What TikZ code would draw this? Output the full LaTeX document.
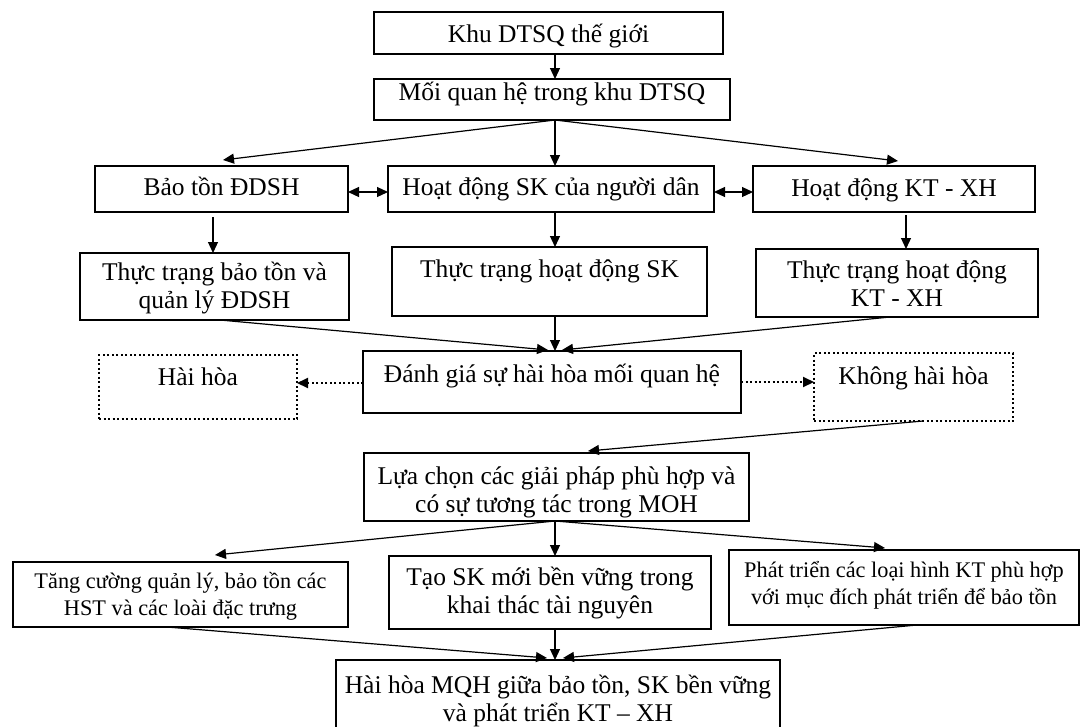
\documentclass[tikz,border=0pt]{standalone}
\usepackage{fontspec}
\setmainfont{Liberation Serif}
\usetikzlibrary{arrows.meta,calc}
\newcommand\tl[1]{\begin{tabular}[t]{@{}c@{}}#1\end{tabular}}
\begin{document}
\begin{tikzpicture}[x=1pt,y=-1pt,
  box/.style={draw, line width=1.2pt, inner sep=0pt, outer sep=0pt},
  dbox/.style={draw, line width=2pt, dash pattern=on 2pt off 2.5pt, inner sep=0pt, outer sep=0pt},
  txt/.style={inner sep=0pt, anchor=base, font=\fontsize{25.5}{28}\selectfont},
  stxt/.style={inner sep=0pt, anchor=base, font=\fontsize{22.3}{27}\selectfont},
  arr/.style={line width=1.2pt, -{Triangle[length=11pt,width=10pt]}},
  darr/.style={line width=1.2pt, {Triangle[length=11pt,width=10pt]}-{Triangle[length=11pt,width=10pt]}},
  dotarr/.style={line width=2pt, dash pattern=on 2pt off 2.5pt, -{Triangle[length=11pt,width=10pt]}},
]
\fill[white] (0,0) rectangle (1081,726);
\useasboundingbox (0,0) rectangle (1081,726);
\coordinate (mx) at (555,0);
% boxes
\node[box, minimum width=349pt, minimum height=42pt] (b1) at (548.5,33) {};
\node[box, minimum width=356pt, minimum height=41pt] (b2) at (552,99.5) {};
\node[box, minimum width=253pt, minimum height=46pt] (b3) at (221.5,189) {};
\node[box, minimum width=326pt, minimum height=46pt] (b4) at (551,189) {};
\node[box, minimum width=282pt, minimum height=46pt] (b5) at (894,189) {};
\node[box, minimum width=269pt, minimum height=67pt] (b6) at (214.5,286.5) {};
\node[box, minimum width=315pt, minimum height=69pt] (b7) at (549.5,281.5) {};
\node[box, minimum width=282pt, minimum height=68pt] (b8) at (897,283) {};
\node[box, minimum width=378pt, minimum height=62pt] (b9) at (552,382) {};
\node[dbox, minimum width=198pt, minimum height=64pt] (b10) at (198,387) {};
\node[dbox, minimum width=199pt, minimum height=68pt] (b11) at (913.5,387) {};
\node[box, minimum width=385pt, minimum height=68pt] (b12) at (556.5,487) {};
\node[box, minimum width=335pt, minimum height=65pt] (b13) at (180.5,594.5) {};
\node[box, minimum width=322pt, minimum height=73pt] (b14) at (550,592.5) {};
\node[box, minimum width=350pt, minimum height=75pt] (b15) at (904,587.5) {};
\node[box, minimum width=444pt, minimum height=72pt] (b16) at (558,696) {};
% texts
\node[txt] (t1) at (548.5,42) {Khu DTSQ thế giới};
\node[txt] (t2) at (552,100) {Mối quan hệ trong khu DTSQ};
\node[txt] (t3) at (221.5,195) {Bảo tồn ĐDSH};
\node[txt] (t4) at (551,195) {Hoạt động SK của người dân};
\node[txt] (t5) at (894,196) {Hoạt động KT - XH};
\node[txt] (t6) at (214.5,280) {\tl{\smash{Thực trạng bảo tồn và}\\\smash{quản lý ĐDSH}}};
\node[txt] (t7) at (549.5,277) {Thực trạng hoạt động SK};
\node[txt] (t8) at (897,278) {\tl{\smash{Thực trạng hoạt động}\\\smash{KT - XH}}};
\node[txt] (t9) at (552,382) {Đánh giá sự hài hòa mối quan hệ};
\node[txt] (t10) at (198,385) {Hài hòa};
\node[txt] (t11) at (913.5,384) {Không hài hòa};
\node[txt] (t12) at (556.5,484) {\tl{\smash{Lựa chọn các giải pháp phù hợp và}\\\smash{có sự tương tác trong MOH}}};
\node[stxt] (t13) at (180.5,588) {\tl{\smash{Tăng cường quản lý, bảo tồn các}\\\smash{HST và các loài đặc trưng}}};
\node[txt] (t14) at (550,585) {\tl{\smash{Tạo SK mới bền vững trong}\\\smash{khai thác tài nguyên}}};
\node[stxt] (t15) at (904,577) {\tl{\smash{Phát triển các loại hình KT phù hợp}\\\smash{với mục đích phát triển để bảo tồn}}};
\node[txt] (t16) at (558,693) {\tl{\smash{Hài hòa MQH giữa bảo tồn, SK bền vững}\\\smash{và phát triển KT – XH}}};
% connectors
\draw[arr] (b1.south -| mx) -- (b2.north -| mx);
\draw[arr] (b2.south -| mx) -- ($(b3.north)+(1.5,-6)$);
\draw[arr] (b2.south -| mx) -- (b4.north -| mx);
\draw[arr] (b2.south -| mx) -- ($(b5.north)+(4,-5)$);
\draw[darr] ($(b3.east)+(0,3)$) -- ($(b4.west)+(0,3)$);
\draw[darr] ($(b4.east)+(0,3)$) -- ($(b5.west)+(0,3)$);
\draw[arr] ($(b3.south -| b6.north)+(-1.5,5)$) -- ($(b6.north)+(-1.5,0)$);
\draw[arr] (b4.south -| mx) -- (b7.north -| mx);
\draw[arr] ($(b5.south)+(12,3)$) -- ($(b8.north)+(9,0)$);
\draw[arr] ($(b6.south)+(5.5,0)$) -- ($(b9.north)+(-4,-1)$);
\draw[arr] (b7.south -| mx) -- (b9.north -| mx);
\draw[arr] ($(b8.south)+(-7,0)$) -- ($(b9.north)+(10,-1)$);
\draw[dotarr] ($(b9.west)+(0,1)$) -- ($(b9.west -| b10.east)+(0,1)$);
\draw[dotarr] (b9.east) -- (b9.east -| b11.west);
\draw[arr] ($(b11.south)+(9.5,0)$) -- ($(b12.north)+(31.5,-2)$);
\draw[arr] (b12.south -| mx) -- ($(b13.north)+(34.5,-7)$);
\draw[arr] (b12.south -| mx) -- (b14.north -| mx);
\draw[arr] (b12.south -| mx) -- ($(b15.north)+(-19,-2)$);
\draw[arr] ($(b13.south)+(-13.5,0)$) -- ($(b16.north)+(-11,-2)$);
\draw[arr] (b14.south -| mx) -- (b16.north -| mx);
\draw[arr] ($(b15.south)+(13,0)$) -- ($(b16.north)+(5,-2)$);
\end{tikzpicture}
\end{document}
